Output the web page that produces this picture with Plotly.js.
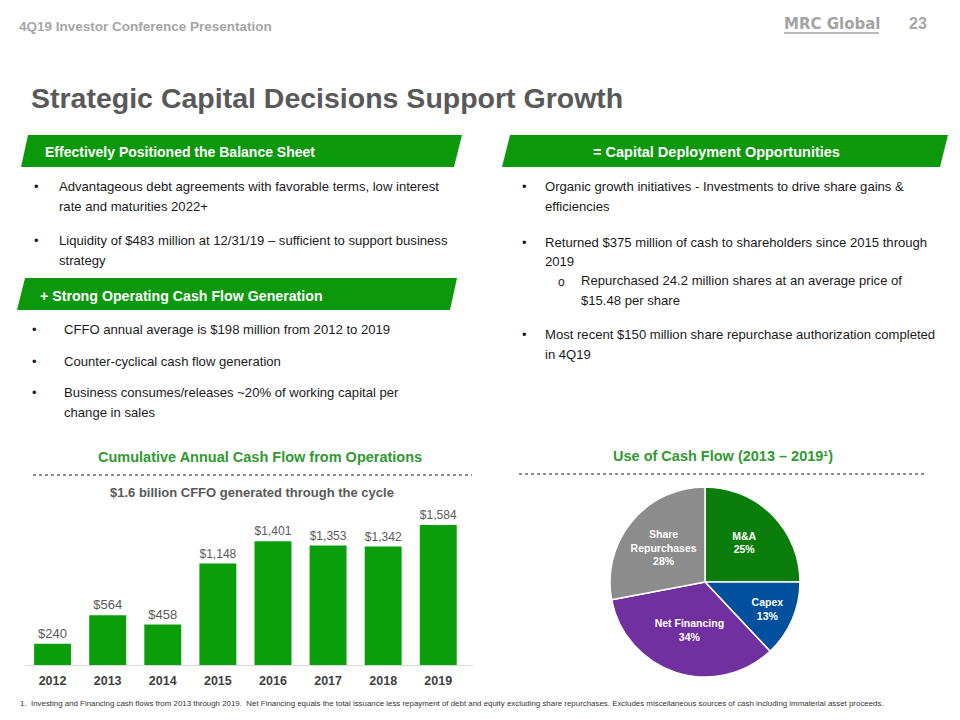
<!DOCTYPE html>
<html>
<head>
<meta charset="utf-8">
<script src="https://cdn.plot.ly/plotly-3.0.1.min.js"></script>
<style>
html,body{margin:0;padding:0;background:#fff;}
#chart{width:960px;height:720px;}
</style>
</head>
<body>
<div id="chart"></div>
<script>
// ---- Data ----
const years = ["2012","2013","2014","2015","2016","2017","2018","2019"];
const cumulativeCFFO = [240, 564, 458, 1148, 1401, 1353, 1342, 1584];

const useLabels = ["M&A", "Capex", "Net Financing", "Share Repurchases"];
const useText = ["M&A", "Capex", "Net Financing", "Share<br>Repurchases"];
const usePercent = [25, 13, 34, 28];
const useColors = ["#0a7d0a", "#00509e", "#7030a0", "#8c8c8c"];

const leftBullets1 = [
  ["Advantageous debt agreements with favorable terms, low interest", "rate and maturities 2022+"],
  ["Liquidity of $483 million at 12/31/19 \u2013 sufficient to support business", "strategy"]
];
const leftBullets2 = [
  ["CFFO annual average is $198 million from 2012 to 2019"],
  ["Counter-cyclical cash flow generation"],
  ["Business consumes/releases ~20% of working capital per", "change in sales"]
];

// ---- Helpers ----
const W = 960, H = 720;
const px = x => x / W;
const py = y => 1 - y / H;
const ARIAL = '"Liberation Sans", Arial, sans-serif';
const GREEN = '#0b980b';
const BODY = 13.1;

const ann = [];
function txt(x, y, text, opts) {
  opts = opts || {};
  ann.push({
    xref: 'paper', yref: 'paper', x: px(x), y: py(y), text: text, showarrow: false,
    xanchor: opts.xanchor || 'left', yanchor: 'middle',
    font: {family: opts.family || ARIAL, size: opts.size || BODY, color: opts.color || '#1a1a1a', weight: opts.weight || 'normal'}
  });
}

// Header
txt(17, 27, "4Q19 Investor Conference Presentation", {size: 13.5, color: '#a6a6a6', weight: 'bold'});
txt(782, 24, "MRC Global", {size: 15, color: '#a3a3a3', weight: 'bold', family: '"DejaVu Sans", sans-serif'});
txt(929, 24, "23", {size: 16, color: '#a6a6a6', weight: 'bold', xanchor: 'right'});
txt(29, 98, "Strategic Capital Decisions Support Growth", {size: 28.5, color: '#595959', weight: 'bold'});

// Banners text
txt(43, 152, "Effectively Positioned the Balance Sheet", {size: 14, color: '#ffffff', weight: 'bold'});
txt(38, 296, "+ Strong Operating Cash Flow Generation", {size: 14.2, color: '#ffffff', weight: 'bold'});
txt(716, 152, "= Capital Deployment Opportunities", {size: 14.5, color: '#ffffff', weight: 'bold', xanchor: 'center'});

// Left bullets (top)
const lb1Y = [[187, 206], [241, 260]];
leftBullets1.forEach((lines, i) => {
  txt(32, lb1Y[i][0], "\u2022", {size: 13});
  lines.forEach((l, j) => txt(57, lb1Y[i][j], l));
});
const lb2Y = [[330], [361], [393, 412]];
leftBullets2.forEach((lines, i) => {
  txt(30, lb2Y[i][0], "\u2022", {size: 13});
  lines.forEach((l, j) => txt(62, lb2Y[i][j], l));
});

// Right bullets
txt(520, 187, "\u2022", {size: 13});
txt(543, 187, "Organic growth initiatives - Investments to drive share gains &");
txt(543, 206, "efficiencies");
txt(520, 242, "\u2022", {size: 13});
txt(543, 242, "Returned $375 million of cash to shareholders since 2015 through");
txt(543, 261, "2019");
txt(556, 282, "o", {size: 12});
txt(579, 281, "Repurchased 24.2 million shares at an average price of");
txt(579, 300, "$15.48 per share");
txt(520, 334, "\u2022", {size: 13});
txt(543, 334, "Most recent $150 million share repurchase authorization completed");
txt(543, 354, "in 4Q19");

// Section titles
txt(260, 457, "Cumulative Annual Cash Flow from Operations", {size: 14.5, color: '#2f9a2f', weight: 'bold', xanchor: 'center'});
txt(723, 456, "Use of Cash Flow (2013 \u2013 2019\u00b9)", {size: 14.5, color: '#2f9a2f', weight: 'bold', xanchor: 'center'});
txt(252, 492, "$1.6 billion CFFO generated through the cycle", {size: 13, color: '#595959', weight: 'bold', xanchor: 'center'});

// Footnote
txt(18, 703, "1.\u00a0\u00a0Investing and Financing cash flows from 2013 through 2019.\u00a0 Net Financing equals the total issuance less repayment of debt and equity excluding share repurchases. Excludes miscellaneous sources of cash including immaterial asset proceeds.", {size: 7.9, color: '#333333'});

// Shapes
function para(xtl, xtr, xbr, xbl, yt, yb) {
  return {type: 'path', xref: 'paper', yref: 'paper', fillcolor: GREEN, line: {width: 0},
    path: `M ${px(xtl)},${py(yt)} L ${px(xtr)},${py(yt)} L ${px(xbr)},${py(yb)} L ${px(xbl)},${py(yb)} Z`};
}
const shapes = [
  para(28, 462, 454, 21, 135, 167),
  para(25, 457, 450, 17, 278, 310),
  para(510, 948, 940, 502, 135, 167),
  {type: 'line', xref: 'paper', yref: 'paper', x0: px(33), x1: px(472), y0: py(475), y1: py(475), line: {color: '#8c8c8c', width: 2, dash: 'dot'}},
  {type: 'line', xref: 'paper', yref: 'paper', x0: px(519), x1: px(926), y0: py(474), y1: py(474), line: {color: '#8c8c8c', width: 2, dash: 'dot'}},
  {type: 'line', xref: 'paper', yref: 'paper', x0: px(784), x1: px(879), y0: py(33), y1: py(33), line: {color: '#a3a3a3', width: 1.5}}
];

const traces = [
  {
    type: 'bar', x: years, y: cumulativeCFFO, xaxis: 'x', yaxis: 'y',
    marker: {color: '#0a9e0a'},
    texttemplate: '$%{y:,}', textposition: 'outside', cliponaxis: false,
    textfont: {family: ARIAL, size: 13, color: '#595959'},
    hoverinfo: 'skip'
  },
  {
    type: 'pie', labels: useLabels, values: usePercent, text: useText,
    texttemplate: '%{text}<br>%{value}%', textinfo: 'text',
    sort: false, direction: 'clockwise', rotation: 0,
    marker: {colors: useColors, line: {color: '#ffffff', width: 1.5}},
    textposition: 'inside', insidetextorientation: 'horizontal',
    textfont: {family: ARIAL, size: 10.5, color: '#ffffff', weight: 'bold'},
    domain: {x: [px(610), px(800)], y: [py(677), py(487)]},
    showlegend: false, hoverinfo: 'skip'
  }
];

const layout = {
  width: W, height: H,
  margin: {l: 0, r: 0, t: 0, b: 0},
  paper_bgcolor: '#ffffff', plot_bgcolor: 'rgba(0,0,0,0)',
  showlegend: false,
  bargap: 0.33,
  xaxis: {
    domain: [px(25), px(473)], range: [-0.5, 7.63], type: 'category',
    showline: true, linecolor: '#d9d9d9', linewidth: 1, showgrid: false, zeroline: false,
    ticks: '', ticklabelstandoff: 4,
    tickfont: {family: ARIAL, size: 12.5, color: '#404040', weight: 'bold'}, fixedrange: true
  },
  yaxis: {
    domain: [py(665), py(506)], range: [0, 1800],
    visible: false, showgrid: false, zeroline: false, fixedrange: true
  },
  annotations: ann,
  shapes: shapes
};

Plotly.newPlot('chart', traces, layout, {displayModeBar: false, staticPlot: true});
</script>
</body>
</html>
